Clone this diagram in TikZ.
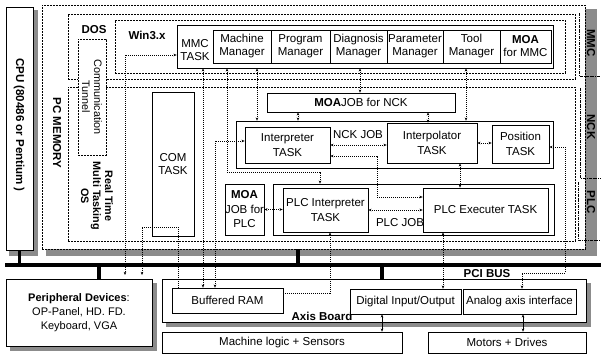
\documentclass[tikz,border=0pt]{standalone}
\usepackage{fontspec}
\setmainfont{Liberation Sans}
\usetikzlibrary{arrows.meta}
\newcommand\fnt{\fontsize{11.5}{13}\selectfont}
\newcommand\fntb{\fontsize{11.5}{14.5}\selectfont}
\newcommand\fnts{\fontsize{10.8}{12}\selectfont}
\begin{document}
\begin{tikzpicture}[x=1pt,y=-1pt,
  every node/.style={font=\fnt, inner sep=0pt, align=center},
  box/.style={draw, line width=0.6pt, fill=white},
  region/.style={draw, line width=0.5pt, dash pattern=on 2pt off 1pt},
  shade/.style={fill=black!45, draw=none},
  lab/.style={font=\fnt\bfseries},
  dl/.style={line width=0.5pt, dash pattern=on 0.8pt off 1.2pt},
  ah/.tip={Stealth[length=3.2pt,width=2.6pt]},
  da/.style={dl, ah-ah},
  busline/.style={line width=3.2pt},
  brk/.style={line width=0.5pt, dash pattern=on 3pt off 1pt on 0.8pt off 1pt},
]
\useasboundingbox (0,0) rectangle (601,356);
% shadows
\fill[shade] (33,10) rectangle (38,256);
\fill[shade] (9,250) rectangle (38,256);
\fill[shade] (585,9) rectangle (597,256);
\fill[shade] (46,249) rectangle (597,256);
\fill[shade] (152,283) rectangle (157,351);
\fill[shade] (10,346) rectangle (157,351);
\fill[shade] (586,283) rectangle (591,327);
\fill[shade] (166,322) rectangle (591,327);

% column coordinates
\foreach \x in {20,99,125,142,203,215,227,257,298,320,360,382,428,443,460,466,523}
  {\coordinate (X\x) at (\x,0);}

% big boxes
\node[box, minimum width=27, minimum height=243] (cpu) at (19.5,128.5) {};
\node[region, minimum width=543, minimum height=244] (pcmem) at (313.5,127) {};
\node[region, minimum width=507, minimum height=65] (dos) at (321.5,46.5) {};
\node[region, minimum width=450, minimum height=53] (win) at (340,46.5) {};
\node[region, minimum width=507, minimum height=154] (rtos) at (321.5,164) {};
\node[region, fill=white, minimum width=28, minimum height=116] (tunnel) at (92,97) {};
\node[rotate=-90, font=\fnts] at (tunnel.center) {Communication\\Tunnel};

% MMC
\node[box, minimum width=376, minimum height=43] (mmctask) at (365,46.5) {};
\node at (195,50) {MMC\\TASK};
\node[box, minimum width=58, minimum height=33] (machine) at (242,46.5) {Machine\\Manager};
\node[box, minimum width=59, minimum height=33] (program) at (300.5,46.5) {Program\\Manager};
\node[box, minimum width=57, minimum height=33] (diag) at (358.5,46.5) {Diagnosis\\Manager};
\node[box, minimum width=56, minimum height=33] (param) at (415,46.5) {Parameter\\Manager};
\node[box, minimum width=57, minimum height=33] (tool) at (471.5,46.5) {Tool\\Manager};
\node[box, minimum width=51, minimum height=33] (moammc) at (525.5,46.5) {\textbf{MOA}\\for MMC};

% COM
\node[box, minimum width=42, minimum height=144] (com) at (173,164) {COM\\TASK};

% NCK
\node[box, minimum width=188, minimum height=19] (moanck) at (361,102.5) {\textbf{MOA}JOB for NCK};
\node[box, fill=none, minimum width=317, minimum height=47] (nckjob) at (394.5,144.5) {};
\node at (358,135) {NCK JOB};
\node[box, font=\fntb, minimum width=85, minimum height=36] (interp) at (287.5,145) {Interpreter\\TASK};
\node[box, font=\fntb, minimum width=90, minimum height=40] (interpol) at (432,143) {Interpolator\\TASK};
\node[box, font=\fntb, minimum width=57, minimum height=38] (pos) at (520.5,144) {Position\\TASK};

% PLC
\node[box, font=\fntb, minimum width=37, minimum height=51] (moaplc) at (244.5,209.5) {\textbf{MOA}\\JOB for\\PLC};
\node[box, fill=none, minimum width=281, minimum height=51] (plcjob) at (413.5,209.5) {};
\node at (400,223) {PLC JOB};
\node[box, font=\fntb, minimum width=85, minimum height=44] (plcint) at (325.5,210) {PLC Interpreter\\TASK};
\node[box, minimum width=125, minimum height=44] (plcexe) at (485.5,210) {PLC Executer TASK};

% labels
\node[lab, rotate=-90] at (19,125) {CPU (80486 or Pentium )};
\node[lab, rotate=-90] at (57,133) {PC MEMORY};
\node[lab] at (94,30) {DOS};
\node[lab] at (147,35) {Win3.x};
\node[lab, rotate=-90, font=\fnts\bfseries] at (97,196) {Real Time\\Multi Tasking\\OS};
\node[lab, rotate=-90] at (591,43) {MMC};
\node[lab, rotate=-90] at (591,127) {NCK};
\node[lab, rotate=-90] at (591,202) {PLC};

% right brackets
\draw[brk] (579,13) -- (579,76) -- (601,76);
\draw[brk] (580,88) -- (580,178) -- (601,178);
\draw[brk] (578,182) -- (578,240) -- (601,240);

% lower part
\node[box, minimum width=146, minimum height=67, font=\fontsize{11}{14}\selectfont] (periph) at (79,312.5)
  {\textbf{Peripheral Devices}:\\OP-Panel, HD. FD.\\Keyboard, VGA};
\node[box, minimum width=424, minimum height=43] (axis) at (374,300.5) {};
\node[lab] at (322,316) {Axis Board};
\node[box, minimum width=111, minimum height=25] (bram) at (227.5,300.5) {Buffered RAM};
\node[box, minimum width=111, minimum height=25] (dio) at (405.5,301.5) {Digital Input/Output};
\node[box, minimum width=113, minimum height=25] (analog) at (519.5,301.5) {Analog axis interface};
\node[box, minimum width=240, minimum height=21] (mlogic) at (282,342.5) {Machine logic + Sensors};
\node[box, minimum width=158, minimum height=21] (motors) at (507,342.5) {Motors + Drives};
\node[lab] at (487,274) {PCI BUS};

% bus
\coordinate (busL) at (5,265);
\coordinate (busR) at (601,265);
\draw[busline] (busL) -- (busR);
\draw[busline] (cpu.south) -- (cpu.south |- busL);
\draw[busline] (pcmem.south -| 298,0) -- (busL -| 298,0);
\draw[busline] (busL -| X99) -- (periph.north -| X99);
\draw[busline] (busL -| X382) -- (axis.north -| X382);

% dotted connectors
\coordinate (p1) at (125,275);
\coordinate (p2) at (142,275);
\coordinate (c1) at (178,227);
\draw[da] ([yshift=-8.5pt]mmctask.west) -| (p1);
\draw[dl, ah-] (p2) |- (c1) -- (bram.north -| c1);
\draw[da] (mmctask.south -| X203) -- (bram.north -| X203);
\draw[da] ([yshift=4pt]interp.west) -| (bram.north -| X215);
\coordinate (c5) at (227,172);
\draw[da] (mmctask.south -| X227) -- (c5) -| (plcjob.north -| X320);
\draw[da] (mmctask.south -| X257) -- (nckjob.north -| X257);
\draw[da] (mmctask.south -| X360) -- (moanck.north -| X360);
\draw[da] (mmctask.south -| X466) -- (nckjob.north -| X466);
\draw[da] (moanck.south -| X298) -- (nckjob.north -| X298);
\draw[da] (moanck.south -| X428) -- (interpol.north -| X428);
\draw[da] (interp.east) -- (interp.east -| interpol.west);
\coordinate (c12) at (377,156);
\coordinate (c12b) at (377,197);
\draw[da] (interp.east |- c12) -- (c12) -- (c12b) -- (c12b -| plcexe.west);
\draw[da] (interpol.east) -- (interpol.east -| pos.west);
\coordinate (c14a) at (565,147);
\coordinate (c14b) at (565,273);
\coordinate (c14c) at (522,273);
\draw[da] (c14a -| pos.east) -- (c14a) -- (c14b) -- (c14c) -- (analog.north -| c14c);
\draw[da] (interpol.south -| X460) -- (plcexe.north -| X460);
\draw[da] (moaplc.east) -- (moaplc.east -| plcint.west);
\draw[da] (plcint.east) -- (plcint.east -| plcexe.west);
\coordinate (c18) at (330,293);
\draw[dl, -ah] (bram.east |- c18) -- (c18) -- (plcint.south -| c18);
\draw[da] (plcexe.south -| X443) -- (dio.north -| X443);
\draw[line width=0.5pt, ah-ah] (dio.south -| X382) -- (mlogic.north -| X382);
\draw[line width=0.5pt, ah-ah] (analog.south -| X523) -- (motors.north -| X523);
\end{tikzpicture}
\end{document}
